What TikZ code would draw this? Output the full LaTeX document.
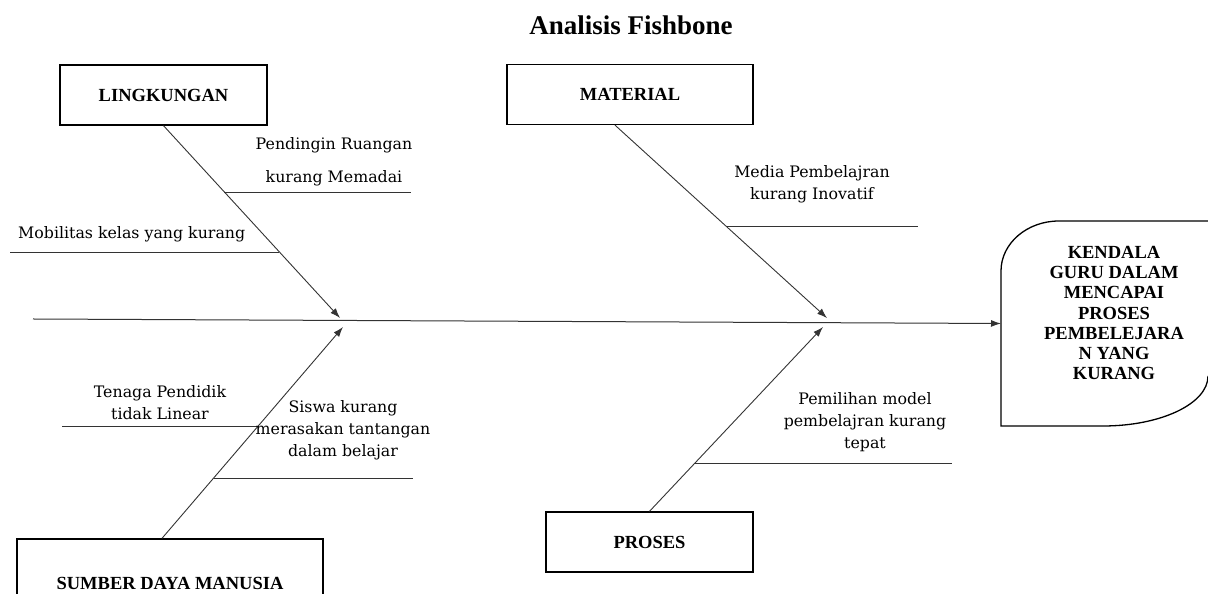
\documentclass[tikz,border=0pt]{standalone}
\usepackage{fontspec}
\setmainfont{Liberation Serif}
\newfontfamily\labfont{DejaVu Serif}
\usetikzlibrary{arrows.meta,calc}
\begin{document}
\begin{tikzpicture}[x=1pt,y=1pt,
  catbox/.style={draw=black, line width=1.3pt, minimum width=#1, minimum height=60pt, inner sep=0pt,
    font=\fontsize{18.5}{22}\selectfont\bfseries},
  bone/.style={draw=black!80, line width=0.9pt},
  arr/.style={bone, -{Latex[length=10pt,width=7pt]}},
  cause/.style={font=\labfont\fontsize{15.8}{22}\selectfont, align=center, inner sep=0pt},
  headtxt/.style={font=\fontsize{18.5}{20.3}\selectfont\bfseries, align=center, inner sep=0pt},
  outline/.style={draw=black, line width=1.3pt}
]
\useasboundingbox (0,0) rectangle (1208,594);
\clip (0,0) rectangle (1208,594);

% title
\node[font=\fontsize{27}{32}\selectfont\bfseries, anchor=base] (title) at (631,559) {Analisis Fishbone};

% category boxes
\node[catbox=207pt] (lingk) at (163.5,499) {LINGKUNGAN};
\node[catbox=246pt] (mat) at (630,499.5) {MATERIAL};
\node[catbox=207pt] (pros) at (649.5,52) {PROSES};
\node[catbox=306pt, minimum height=88pt] (sdm) at (170,11) {SUMBER DAYA MANUSIA};

% head
\node[headtxt] (head) at (1114,281) {KENDALA\\GURU DALAM\\MENCAPAI\\PROSES\\PEMBELEJARA\\N YANG\\KURANG};
\draw[outline] (1215,373) -- (1059,373) arc[start angle=90,end angle=180,x radius=58,y radius=50]
  -- (1001,168) -- (1103,168) arc[start angle=270,end angle=360,x radius=105,y radius=50];

% coordinates
\coordinate (tail) at (33,275);
\coordinate (hw) at (1001,270.5);
\coordinate (tipL) at (340,276);
\coordinate (tipM) at (827,276);
\coordinate (tipS) at (343,267);
\coordinate (tipP) at (823,267);

% spine
\draw[arr, line width=1pt] (tail) -- (hw);

% main bones
\draw[arr] (lingk.south) -- (tipL);
\draw[arr] ([xshift=-15pt]mat.south) -- (tipM);
\draw[arr] ([xshift=-8pt]sdm.north) -- (tipS);
\draw[arr] (pros.north) -- (tipP);

% cause lines
\coordinate (l1a) at (224,402);  \coordinate (l1b) at (411,402);
\coordinate (l2a) at (10,342);   \coordinate (l2b) at (279,342);
\coordinate (l3a) at (727,368);  \coordinate (l3b) at (918,368);
\coordinate (l4a) at (62,168);   \coordinate (l4b) at (259,168);
\coordinate (l5a) at (214,116);  \coordinate (l5b) at (413,116);
\coordinate (l6a) at (694,131);  \coordinate (l6b) at (952,131);
\draw[bone] (l1a) -- (l1b);
\draw[bone] (l2a) -- (l2b);
\draw[bone] (l3a) -- (l3b);
\draw[bone] (l4a) -- (l4b);
\draw[bone] (l5a) -- (l5b);
\draw[bone] (l6a) -- (l6b);

% cause texts
\node[cause, font=\labfont\fontsize{15.8}{33}\selectfont] (c1) at (334,432.5) {Pendingin Ruangan\\kurang Memadai};
\node[cause, anchor=west] (c2) at (18,360) {Mobilitas kelas yang kurang};
\node[cause] (c3) at (812,409.5) {Media Pembelajran\\kurang Inovatif};
\node[cause] (c4) at (160,191) {Tenaga Pendidik\\tidak Linear};
\node[cause] (c5) at (343,164) {Siswa kurang\\merasakan tantangan\\dalam belajar};
\node[cause] (c6) at (865,172) {Pemilihan model\\pembelajran kurang\\tepat};
\end{tikzpicture}
\end{document}
